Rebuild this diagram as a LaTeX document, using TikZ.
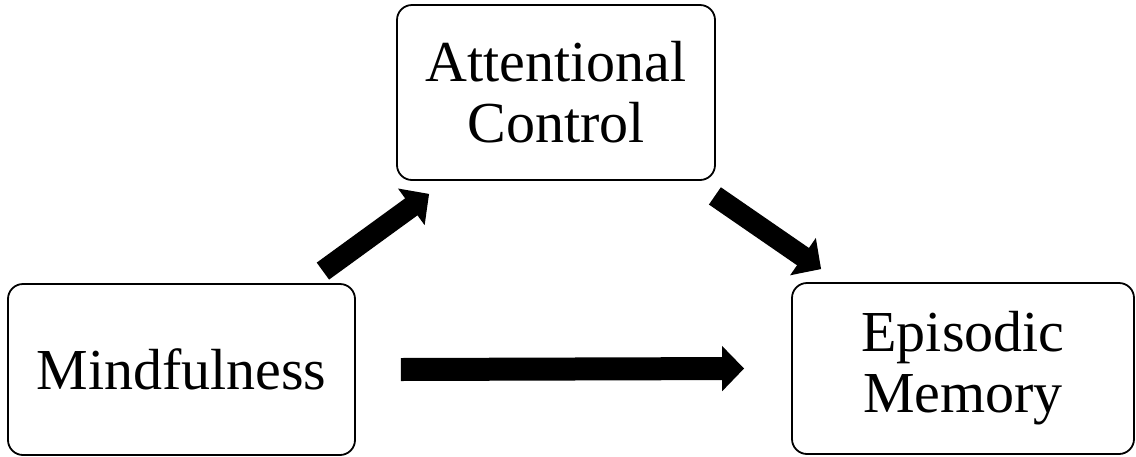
\documentclass[tikz,border=0pt]{standalone}
\usepackage{fontspec}
\setmainfont{Liberation Serif}
\usepackage{tikz}
\usetikzlibrary{arrows.meta,positioning}

\begin{document}
\begin{tikzpicture}[
  x=1pt, y=-1pt,
  box/.style={draw, line width=1.8pt, rounded corners=15pt, align=center,
              inner sep=0pt, font=\fontsize{58}{61}\selectfont},
  blockarrow/.style={line width=21pt,
              -{Triangle[width=44pt, length=22pt]}}
]
  \useasboundingbox (0,0) rectangle (1136,456);

  \node[box, minimum width=347pt, minimum height=171pt] (mind) at (181.5,369.5)
    {Mindfulness};
  \node[box, minimum width=318pt, minimum height=175pt] (att) at (556,92.5)
    {Attentional\\Control};
  \node[box, minimum width=342pt, minimum height=171pt] (epi) at (963,368.5)
    {Episodic\\Memory};

  \draw[blockarrow] ([xshift=-33pt,yshift=12pt]mind.north east)
    -- ([xshift=33pt,yshift=-13pt]att.south west);
  \draw[blockarrow] ([xshift=-1pt,yshift=-15pt]att.south east)
    -- ([xshift=30pt,yshift=13pt]epi.north west);
  \draw[blockarrow, line width=23pt] ([xshift=45pt]mind.east)
    -- ([xshift=-47pt]epi.west);
\end{tikzpicture}
\end{document}
